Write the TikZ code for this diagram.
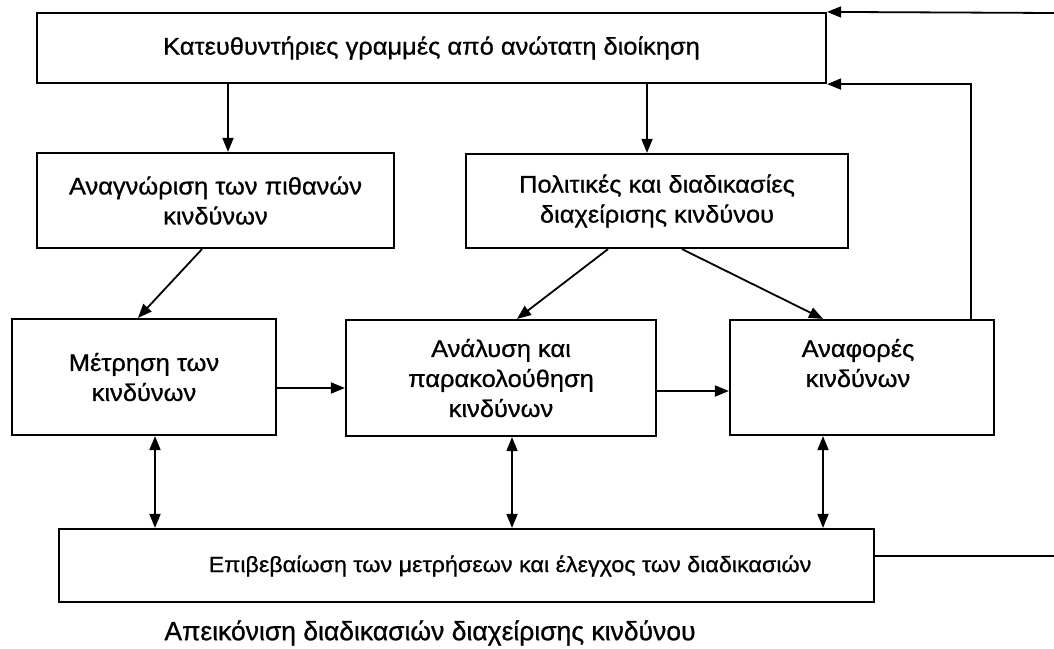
\documentclass[tikz,border=0pt]{standalone}
\usepackage{fontspec}
\setmainfont{Liberation Sans}
\newfontfamily\dfont{Liberation Sans}[FakeStretch=1.06, FakeBold=0.8]
\newfontfamily\cfont{Liberation Sans}[FakeBold=0.8]
\usetikzlibrary{arrows.meta}
\begin{document}
\begin{tikzpicture}[x=1pt,y=-1pt,
  box/.style={draw, line width=2.2pt, inner sep=0pt, align=center, font=\dfont\fontsize{24}{30}\selectfont},
  txt/.style={inner sep=0pt, align=center, font=\dfont\fontsize{24}{30}\selectfont},
  arr/.style={line width=1.8pt, -{Triangle[length=14pt,width=11pt]}},
  darr/.style={line width=1.8pt, {Triangle[length=14pt,width=11pt]}-{Triangle[length=14pt,width=11pt]}},
  ln/.style={line width=2.2pt}]
\useasboundingbox[fill=white] (0,0) rectangle (1054,648);
% boxes
\node[box, minimum width=789pt, minimum height=70pt] (top) at (431.5,48) {Κατευθυντήριες γραμμές από ανώτατη διοίκηση};
\node[box, minimum width=357pt, minimum height=95pt] (ident) at (215.5,200.5) {Αναγνώριση των πιθανών\\κινδύνων};
\node[box, minimum width=382pt, minimum height=94pt] (policy) at (657,201) {Πολιτικές και διαδικασίες\\διαχείρισης κινδύνου};
\node[box, minimum width=264pt, minimum height=116pt] (measure) at (144,377) {Μέτρηση των\\κινδύνων};
\node[box, minimum width=310pt, minimum height=116pt] (analysis) at (501,378) {Ανάλυση και\\παρακολούθηση\\κινδύνων};
\node[box, minimum width=264pt, minimum height=115pt] (reports) at (862,377.5) {};
\node[txt] (reportstext) at (858,363) {Αναφορές\\κινδύνων};
\node[box, minimum width=815pt, minimum height=73pt] (verify) at (466.5,565.5) {};
\node[txt, font=\dfont\fontsize{22}{28}\selectfont] (verifytext) at (510,566) {Επιβεβαίωση των μετρήσεων και έλεγχος των διαδικασιών};
\node[inner sep=0pt, font=\cfont\fontsize{26.5}{32}\selectfont] (caption) at (430,633) {Απεικόνιση διαδικασιών διαχείρισης κινδύνου};
% helper coordinates
\coordinate (xa) at (228,0);
\coordinate (xb) at (647,0);
\coordinate (xc1) at (202,0);
\coordinate (xc2) at (138,0);
\coordinate (xd1) at (608,0);
\coordinate (xd2) at (517,0);
\coordinate (xe1) at (682,0);
\coordinate (xe2) at (823,0);
\coordinate (xf) at (155,0);
\coordinate (xg) at (512,0);
\coordinate (xh) at (823,0);
\coordinate (xr) at (971,0);
\coordinate (y1) at (0,388);
\coordinate (y2) at (0,391);
\coordinate (edgeTop) at (1054,13);
\coordinate (edgeBot) at (1054,556);
\coordinate (yb) at (0,556);
% connectors
\draw[arr] (top.south -| xa) -- (ident.north -| xa);
\draw[arr] (top.south -| xb) -- (policy.north -| xb);
\draw[arr] (ident.south -| xc1) -- (measure.north -| xc2);
\draw[arr] (policy.south -| xd1) -- (analysis.north -| xd2);
\draw[arr] (policy.south -| xe1) -- (reports.north -| xe2);
\draw[arr] (measure.east |- y1) -- (analysis.west |- y1);
\draw[arr] (analysis.east |- y2) -- (reports.west |- y2);
\draw[darr] (measure.south -| xf) -- (verify.north -| xf);
\draw[darr] (analysis.south -| xg) -- (verify.north -| xg);
\draw[darr] (reports.south -| xh) -- (verify.north -| xh);
\draw[arr] (edgeTop) -- (top.north east);
\draw[arr] (reports.north -| xr) -- (top.south -| xr) -- (top.south east);
\draw[ln] (verify.east |- yb) -- (edgeBot);
\end{tikzpicture}
\end{document}
